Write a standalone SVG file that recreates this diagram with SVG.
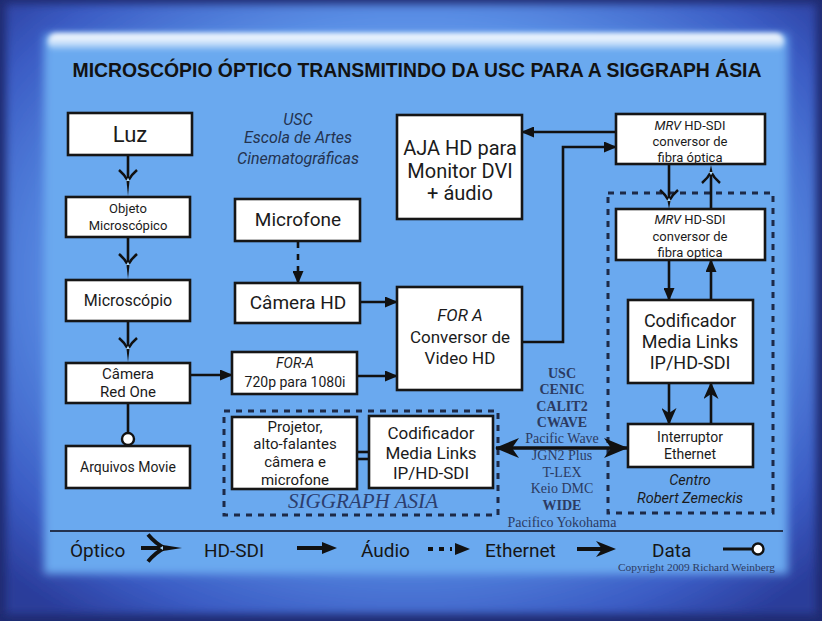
<svg xmlns="http://www.w3.org/2000/svg" width="822" height="621" viewBox="0 0 822 621">
<defs>
  <radialGradient id="frameG" cx="50%" cy="45%" r="70%">
    <stop offset="0" stop-color="#6aa6ee"/>
    <stop offset="0.6" stop-color="#5b90e6"/>
    <stop offset="0.85" stop-color="#3b5cc4"/>
    <stop offset="1" stop-color="#2a3c9a"/>
  </radialGradient>
  <linearGradient id="glowG" x1="0" y1="0" x2="0" y2="1">
    <stop offset="0" stop-color="#ffffff" stop-opacity="1"/>
    <stop offset="0.5" stop-color="#eef6ff" stop-opacity="0.8"/>
    <stop offset="1" stop-color="#ffffff" stop-opacity="0"/>
  </linearGradient>
  <filter id="soft" x="-5%" y="-5%" width="110%" height="110%">
    <feGaussianBlur stdDeviation="4"/>
  </filter>
  <filter id="soft2" x="-5%" y="-50%" width="110%" height="200%">
    <feGaussianBlur stdDeviation="2.5"/>
  </filter>
  <marker id="tri" markerUnits="userSpaceOnUse" markerWidth="13" markerHeight="11" refX="12" refY="5.5" orient="auto-start-reverse">
    <path d="M0,0 L13,5.5 L0,11 z" fill="#111"/>
  </marker>
  <marker id="eth" markerUnits="userSpaceOnUse" markerWidth="17" markerHeight="15" refX="16" refY="7.5" orient="auto-start-reverse">
    <path d="M0,0 L17,7.5 L0,15 L5,7.5 z" fill="#111"/>
  </marker>
  <marker id="eth2" markerUnits="userSpaceOnUse" markerWidth="24" markerHeight="20" refX="23" refY="10" orient="auto-start-reverse">
    <path d="M0,0 L24,10 L0,20 L7,10 z" fill="#111"/>
  </marker>
  <g id="optw">
    <path d="M-9,-8 Q-3,-3 0,3 Q3,-3 9,-8" fill="none" stroke="#111" stroke-width="2.6"/>
    <path d="M0,0 L2,3 L0,6 L-2,3 z" fill="#a9d6f8"/>
  </g>
  <style>
    .box{fill:#ffffff;stroke:#161616;stroke-width:2.6}
    .t{font-family:Roboto,"Liberation Sans",sans-serif;fill:#1b1b1b;text-anchor:middle}
    .it{font-style:italic}
    .ln{fill:none;stroke:#111;stroke-width:2.6}
    .hd{fill:none;stroke:#111;stroke-width:2.6;marker-end:url(#tri)}
    .et{fill:none;stroke:#111;stroke-width:2.6;marker-end:url(#eth)}
    .au{fill:none;stroke:#111;stroke-width:2.6;stroke-dasharray:6 6;marker-end:url(#tri)}
    .tip{fill:#111}
    .dash{fill:none;stroke:#1d2a48;stroke-width:3;stroke-dasharray:6 6}
    .net{font-family:"Liberation Serif","Times New Roman",serif;fill:#2c3b62;text-anchor:middle;font-size:14px}
    .lg{font-family:Roboto,"Liberation Sans",sans-serif;fill:#161616;font-size:19px}
  </style>
</defs>

<!-- background -->
<rect x="0" y="0" width="822" height="621" fill="#1f2b72"/>
<rect x="6" y="4" width="810" height="610" fill="url(#frameG)" filter="url(#soft)"/>
<rect x="44" y="34" width="744" height="540" fill="#6ba9ef" filter="url(#soft)"/>
<rect x="48" y="33" width="736" height="18" rx="8" fill="url(#glowG)" filter="url(#soft2)"/>

<!-- title -->
<text x="417" y="77" text-anchor="middle" font-family="'Liberation Sans',Arial,sans-serif" font-weight="bold" font-size="20" fill="#121212" textLength="689" lengthAdjust="spacingAndGlyphs">MICROSCÓPIO ÓPTICO TRANSMITINDO DA USC PARA A SIGGRAPH ÁSIA</text>

<!-- free labels -->
<g id="usc-label" class="t it" font-size="16">
  <text x="298" y="125" fill="#24334f">USC</text>
  <text x="298" y="143" fill="#24334f">Escola de Artes</text>
  <text x="298" y="164" fill="#24334f">Cinematográficas</text>
</g>

<!-- dashed groups -->
<g id="siggraph-group">
  <rect class="dash" x="224" y="411" width="274" height="104"/>
  <text x="363" y="508" text-anchor="middle" font-family="'Liberation Serif','Times New Roman',serif" font-style="italic" font-size="20" fill="#2c3e6e" textLength="150" lengthAdjust="spacingAndGlyphs">SIGGRAPH ASIA</text>
</g>
<g id="zemeckis-group">
  <rect class="dash" x="608" y="193" width="165" height="320"/>
  <text class="t it" x="690" y="485" font-size="14.5">Centro</text>
  <text class="t it" x="690" y="503" font-size="14.5">Robert Zemeckis</text>
</g>

<!-- connectors -->
<g id="connectors">
  <!-- optical left column -->
  <line class="ln" x1="128" y1="155" x2="128" y2="178"/>
  <use href="#optw" x="128" y="178"/>
  <path class="tip" d="M126.5,181 L129.5,181 L128,196 z"/>
  <line class="ln" x1="128" y1="237" x2="128" y2="262"/>
  <use href="#optw" x="128" y="262"/>
  <path class="tip" d="M126.5,265 L129.5,265 L128,279 z"/>
  <line class="ln" x1="128" y1="321" x2="128" y2="346"/>
  <use href="#optw" x="128" y="346"/>
  <path class="tip" d="M126.5,349 L129.5,349 L128,362 z"/>
  <!-- data -->
  <line class="ln" x1="128" y1="403" x2="128" y2="433"/>
  <circle cx="128" cy="439" r="6" fill="#ffffff" stroke="#111" stroke-width="2.4"/>
  <!-- HD-SDI -->
  <line class="hd" x1="190" y1="375" x2="232" y2="375"/>
  <line class="hd" x1="357" y1="376" x2="397" y2="376"/>
  <line class="hd" x1="360" y1="302" x2="397" y2="302"/>
  <polyline class="hd" points="522,342 563,342 563,147 616,147"/>
  <line class="hd" x1="616" y1="132" x2="522" y2="132"/>
  <!-- audio -->
  <line class="au" x1="298" y1="242" x2="298" y2="283"/>
  <!-- optical between MRVs -->
  <line class="ln" x1="669" y1="164" x2="669" y2="198"/>
  <use href="#optw" x="669" y="198"/>
  <path class="tip" d="M667.5,201 L670.5,201 L669,209 z"/>
  <line class="ln" x1="711" y1="209" x2="711" y2="175"/>
  <use href="#optw" transform="translate(711,175) rotate(180)"/>
  <path class="tip" d="M709.5,172 L712.5,172 L711,165 z"/>
  <!-- MRV2 <-> Codificador -->
  <line class="hd" x1="669" y1="260" x2="669" y2="300"/>
  <line class="hd" x1="711" y1="300" x2="711" y2="260"/>
  <!-- Codificador <-> Interruptor -->
  <line class="et" x1="669" y1="383" x2="669" y2="424"/>
  <line class="et" x1="711" y1="424" x2="711" y2="383"/>
  <!-- long ethernet -->
  <line x1="496" y1="448" x2="627" y2="448" stroke="#111" stroke-width="3.6" marker-start="url(#eth2)" marker-end="url(#eth2)"/>
  <!-- Projetor = Codificador -->
  <line class="ln" x1="357" y1="452" x2="369" y2="452" stroke-width="2"/>
  <line class="ln" x1="357" y1="459" x2="369" y2="459" stroke-width="2"/>
</g>

<!-- nodes -->
<g id="luz"><rect class="box" x="68" y="113" width="124" height="42"/><text class="t" x="130" y="142" font-size="22">Luz</text></g>
<g id="objeto"><rect class="box" x="66" y="197" width="124" height="40"/><text class="t" x="128" y="213" font-size="13">Objeto</text><text class="t" x="128" y="230" font-size="13">Microscópico</text></g>
<g id="microscopio"><rect class="box" x="66" y="280" width="124" height="41"/><text class="t" x="128" y="306" font-size="16">Microscópio</text></g>
<g id="redone"><rect class="box" x="66" y="363" width="124" height="40"/><text class="t" x="128" y="379" font-size="15">Câmera</text><text class="t" x="128" y="397" font-size="15">Red One</text></g>
<g id="arquivos"><rect class="box" x="66" y="446" width="124" height="42"/><text class="t" x="128" y="472" font-size="14">Arquivos Movie</text></g>
<g id="microfone"><rect class="box" x="235" y="199" width="125" height="42"/><text class="t" x="298" y="226" font-size="19">Microfone</text></g>
<g id="camerahd"><rect class="box" x="235" y="283" width="125" height="40"/><text class="t" x="298" y="309" font-size="19">Câmera HD</text></g>
<g id="fora720"><rect class="box" x="232" y="352" width="125" height="42"/><text class="t it" x="295" y="368" font-size="14">FOR-A</text><text class="t" x="295" y="387" font-size="14">720p para 1080i</text></g>
<g id="aja"><rect class="box" x="397" y="115" width="125" height="104"/><text class="t" x="460" y="155" font-size="20">AJA HD para</text><text class="t" x="460" y="178" font-size="20">Monitor DVI</text><text class="t" x="460" y="200" font-size="20">+ áudio</text></g>
<g id="fora-conv"><rect class="box" x="397" y="287" width="125" height="103"/><text class="t it" x="460" y="321" font-size="17">FOR A</text><text class="t" x="460" y="343" font-size="17">Conversor de</text><text class="t" x="460" y="364" font-size="17">Video HD</text></g>
<g id="mrv1"><rect class="box" x="616" y="114" width="149" height="50"/><text class="t" x="690" y="130" font-size="13"><tspan font-style="italic">MRV</tspan> HD-SDI</text><text class="t" x="690" y="146" font-size="13">conversor de</text><text class="t" x="690" y="162" font-size="13">fibra óptica</text></g>
<g id="mrv2"><rect class="box" x="616" y="209" width="149" height="51"/><text class="t" x="690" y="224" font-size="13"><tspan font-style="italic">MRV</tspan> HD-SDI</text><text class="t" x="690" y="241" font-size="13">conversor de</text><text class="t" x="690" y="257" font-size="13">fibra optica</text></g>
<g id="cod-right"><rect class="box" x="628" y="300" width="125" height="83"/><text class="t" x="690" y="327" font-size="18">Codificador</text><text class="t" x="690" y="348" font-size="18">Media Links</text><text class="t" x="690" y="369" font-size="18">IP/HD-SDI</text></g>
<g id="interruptor"><rect class="box" x="628" y="424" width="125" height="43"/><text class="t" x="690" y="442" font-size="14">Interruptor</text><text class="t" x="690" y="459" font-size="14">Ethernet</text></g>
<g id="projetor"><rect class="box" x="232" y="417" width="125" height="72"/><text class="t" x="295" y="432" font-size="15">Projetor,</text><text class="t" x="295" y="449" font-size="15">alto-falantes</text><text class="t" x="295" y="467" font-size="15">câmera e</text><text class="t" x="295" y="485" font-size="15">microfone</text></g>
<g id="cod-left"><rect class="box" x="369" y="416" width="124" height="72"/><text class="t" x="431" y="439" font-size="17">Codificador</text><text class="t" x="431" y="459" font-size="17">Media Links</text><text class="t" x="431" y="479" font-size="17">IP/HD-SDI</text></g>

<!-- network labels -->
<g id="network-labels">
  <text class="net" x="562" y="378" font-weight="bold">USC</text>
  <text class="net" x="562" y="394" font-weight="bold">CENIC</text>
  <text class="net" x="562" y="411" font-weight="bold">CALIT2</text>
  <text class="net" x="562" y="427" font-weight="bold">CWAVE</text>
  <text class="net" x="562" y="443" font-size="13">Pacific Wave</text>
  <text class="net" x="562" y="460" font-size="13.5">JGN2 Plus</text>
  <text class="net" x="562" y="477">T-LEX</text>
  <text class="net" x="562" y="493" font-size="13.5">Keio DMC</text>
  <text class="net" x="562" y="510" font-weight="bold">WIDE</text>
  <text class="net" x="562" y="527" font-size="12.5">Pacifico Yokohama</text>
</g>

<!-- legend -->
<g id="legend">
  <line x1="50" y1="531" x2="783" y2="531" stroke="#23324f" stroke-width="2"/>
  <text class="lg" x="70" y="557">Óptico</text>
  <line x1="141" y1="548" x2="160" y2="548" stroke="#111" stroke-width="4"/>
  <use href="#optw" transform="translate(160,548) rotate(-90) scale(1.5)"/>
  <path class="tip" d="M163,545 L163,551 L182,548 z"/>
  <text class="lg" x="204" y="557">HD-SDI</text>
  <line x1="297" y1="548" x2="324" y2="548" stroke="#111" stroke-width="4"/>
  <path d="M322,542 L337,548 L322,554 z" fill="#111"/>
  <text class="lg" x="361" y="557">Áudio</text>
  <line x1="428" y1="549" x2="452" y2="549" stroke="#111" stroke-width="4" stroke-dasharray="5 6"/>
  <path d="M455,543 L470,549 L455,555 z" fill="#111"/>
  <text class="lg" x="485" y="557">Ethernet</text>
  <line x1="577" y1="549" x2="603" y2="549" stroke="#111" stroke-width="4"/>
  <path d="M596,541 L616,549 L596,557 L602,549 z" fill="#111"/>
  <text class="lg" x="652" y="557">Data</text>
  <line x1="723" y1="549" x2="753" y2="549" stroke="#111" stroke-width="3"/>
  <circle cx="758" cy="549" r="5.5" fill="#ffffff" stroke="#111" stroke-width="2.4"/>
  <text x="775" y="571" text-anchor="end" font-family="'Liberation Serif','Times New Roman',serif" font-size="10" fill="#2c3b62" textLength="157" lengthAdjust="spacingAndGlyphs">Copyright 2009 Richard Weinberg</text>
</g>
</svg>
